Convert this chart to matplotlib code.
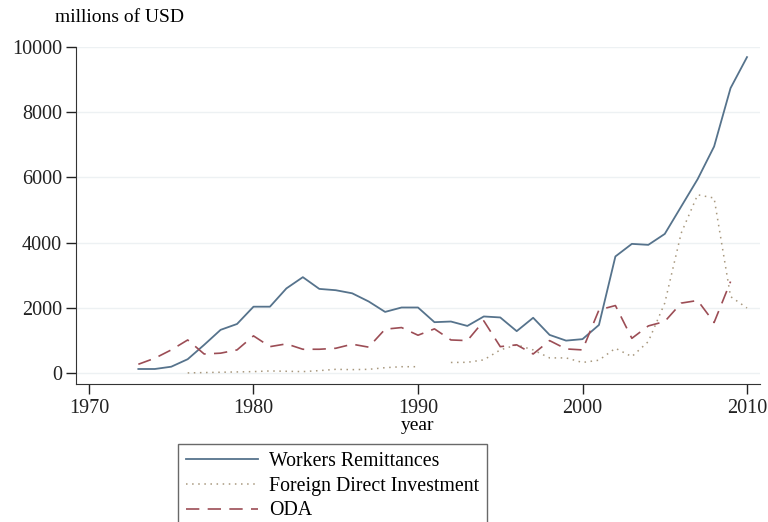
import numpy as np
import matplotlib
matplotlib.use("Agg")
import matplotlib.pyplot as plt

plt.rcParams['font.family'] = ['Liberation Serif', 'DejaVu Serif']

# Data (millions of USD)
years = np.arange(1973, 2011)

remittances = [130, 130, 200, 430, 870, 1330, 1510, 2040, 2040, 2600,
               2945, 2585, 2545, 2450, 2200, 1880, 2015, 2015, 1565, 1585,
               1450, 1740, 1710, 1290, 1700, 1175, 1000, 1045, 1480, 3580,
               3965, 3935, 4270, 5110, 5950, 6950, 8740, 9690]

fdi = [np.nan, np.nan, np.nan, 10, 20, 30, 40, 50, 70, 60,
       50, 80, 120, 110, 120, 170, 200, 200, np.nan, 330,
       335, 410, 715, 870, 715, 470, 470, 330, 400, 765,
       510, 970, 2150, 4295, 5470, 5370, 2350, 2000]

oda = [275, 460, 715, 1020, 590, 615, 715, 1145, 815, 900,
       735, 735, 765, 890, 800, 1350, 1400, 1165, 1360, 1020,
       1000, 1605, 815, 870, 590, 1000, 745, 715, 1940, 2075,
       1070, 1450, 1585, 2150, 2230, 1555, 2810, np.nan]

labels = ["Workers Remittances", "Foreign Direct Investment", "ODA"]

fig = plt.figure(figsize=(7.68, 5.22), dpi=100)
ax = fig.add_axes([76/768, 1-384/522, (760-76)/768, (384-47)/522])

ax.plot(years, remittances, color="#56738c", lw=1.3, label=labels[0])
ax.plot(years, fdi, color="#a8987e", lw=1.1, linestyle=(0, (1, 3)), label=labels[1])
ax.plot(years, oda, color="#9c4d55", lw=1.2, linestyle=(0, (8, 5)), label=labels[2])

ax.set_xlim(1969.21, 2010.79)
ax.set_ylim(-330, 10000)
ax.set_xticks([1970, 1980, 1990, 2000, 2010])
ax.set_yticks([0, 2000, 4000, 6000, 8000, 10000])
ax.yaxis.grid(True, color="#edf1f3", lw=1)
ax.set_axisbelow(True)
for s in ["top", "right"]:
    ax.spines[s].set_visible(False)
ax.spines["left"].set_color("#333333")
ax.spines["bottom"].set_color("#333333")
ax.tick_params(axis="both", direction="out", length=7, width=1, colors="#222222",
               labelsize=14.5, pad=3)
ax.tick_params(axis="x", pad=4)
ax.set_xlabel("year", fontsize=14, labelpad=-1)
fig.text(55/768, 1-18/522, "millions of USD", fontsize=14, va="center", ha="left")

leg = fig.legend(loc="upper left", bbox_to_anchor=(178/768, 1-444/522),
                 fontsize=14.3, frameon=True, fancybox=False, handlelength=3.6,
                 labelspacing=0.28, borderpad=0.42, handletextpad=0.55,
                 borderaxespad=0)
leg.get_frame().set_edgecolor("#444444")
leg.get_frame().set_linewidth(1.0)

fig.savefig("out.png", dpi=100)
